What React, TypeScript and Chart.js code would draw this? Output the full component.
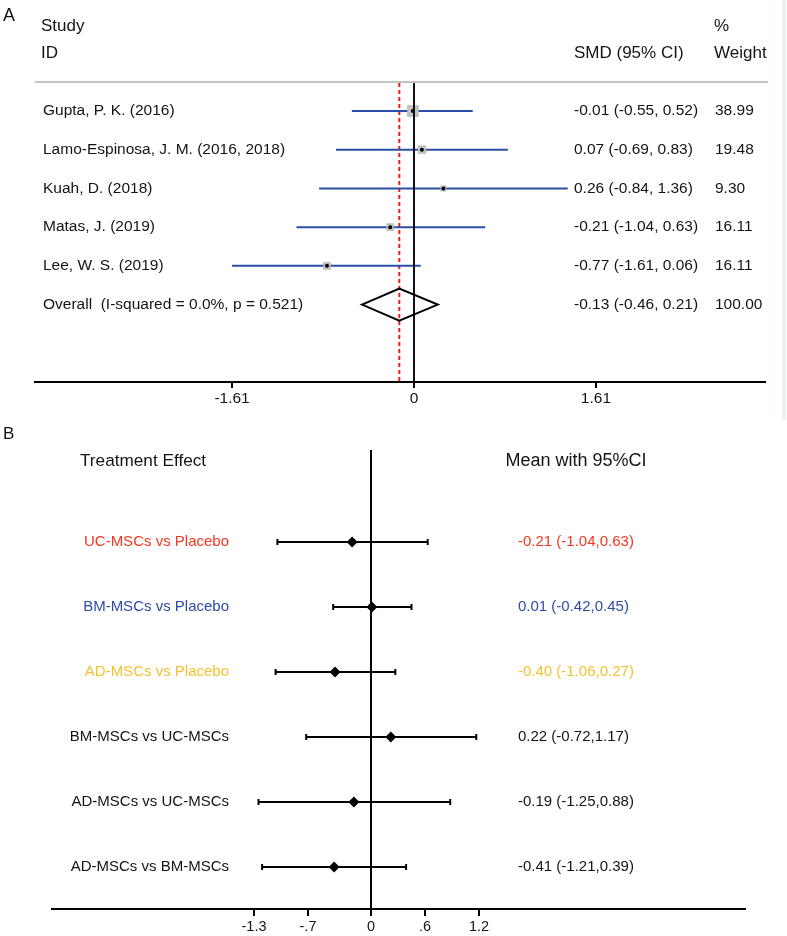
import React, { useEffect, useRef } from "react";
import { Chart, registerables } from "chart.js";

Chart.register(...registerables);

// ---------- Panel A data ----------
const studies = [
  "Gupta, P. K. (2016)",
  "Lamo-Espinosa, J. M. (2016, 2018)",
  "Kuah, D. (2018)",
  "Matas, J. (2019)",
  "Lee, W. S. (2019)",
];
const smd = [-0.01, 0.07, 0.26, -0.21, -0.77];
const smdLow = [-0.55, -0.69, -0.84, -1.04, -1.61];
const smdHigh = [0.52, 0.83, 1.36, 0.63, 0.06];
const weights = [38.99, 19.48, 9.3, 16.11, 16.11];
const overallLabel = "Overall  (I-squared = 0.0%, p = 0.521)";
const overallEst = -0.13;
const overallLow = -0.46;
const overallHigh = 0.21;
const overallWeight = 100.0;
const ticksA = [-1.61, 0, 1.61];
const tickLabelsA = ["-1.61", "0", "1.61"];

// ---------- Panel B data ----------
const comparisons = [
  "UC-MSCs vs Placebo",
  "BM-MSCs vs Placebo",
  "AD-MSCs vs Placebo",
  "BM-MSCs vs UC-MSCs",
  "AD-MSCs vs UC-MSCs",
  "AD-MSCs vs BM-MSCs",
];
const meanB = [-0.21, 0.01, -0.4, 0.22, -0.19, -0.41];
const lowB = [-1.04, -0.42, -1.06, -0.72, -1.25, -1.21];
const highB = [0.63, 0.45, 0.27, 1.17, 0.88, 0.39];
const ticksB = [-1.3, -0.7, 0, 0.6, 1.2];
const tickLabelsB = ["-1.3", "-.7", "0", ".6", "1.2"];

// ---------- styles ----------
const FONT = "'Liberation Sans', Arial, Helvetica, sans-serif";
const BLUE = "#2b4ea6";
const TEXT = "#141414";
const rowColorsB = ["#f2381f", "#2d4ba8", "#f5c22e", TEXT, TEXT, TEXT];

function txt(
  ctx: CanvasRenderingContext2D,
  s: string,
  x: number,
  y: number,
  size: number,
  color = TEXT,
  align: CanvasTextAlign = "left"
) {
  ctx.save();
  ctx.font = `${size}px ${FONT}`;
  ctx.fillStyle = color;
  ctx.textAlign = align;
  ctx.textBaseline = "middle";
  ctx.fillText(s, x, y);
  ctx.restore();
}

const f2 = (v: number) => v.toFixed(2);

function configA(): any {
  const lineSets = studies.map((_, i) => ({
    data: [
      { x: smdLow[i], y: i + 1 },
      { x: smdHigh[i], y: i + 1 },
    ],
    showLine: true,
    borderColor: BLUE,
    borderWidth: 2,
    pointRadius: 0,
    order: 3,
  }));
  const squares = {
    data: smd.map((v, i) => ({ x: v, y: i + 1 })),
    pointStyle: "rect",
    pointRadius: weights.map((w) => Math.sqrt(w) * 1.25),
    backgroundColor: "#c2c2c2",
    borderColor: "#b0b0b0",
    borderWidth: 0.5,
    order: 2,
  };
  const dots = {
    data: smd.map((v, i) => ({ x: v, y: i + 1 })),
    pointStyle: "circle",
    pointRadius: 2,
    backgroundColor: "#000",
    borderWidth: 0,
    order: 1,
  };

  const plugin = {
    id: "panelA",
    beforeDatasetsDraw(chart: any) {
      const { ctx, scales, chartArea } = chart;
      const x = scales.x;
      // header rule
      ctx.save();
      ctx.strokeStyle = "#c4c4c4";
      ctx.lineWidth = 2;
      ctx.beginPath();
      ctx.moveTo(chartArea.left, chartArea.top);
      ctx.lineTo(768, chartArea.top);
      ctx.stroke();
      // overall dashed line
      const px = x.getPixelForValue(overallEst);
      ctx.strokeStyle = "#ee1c1c";
      ctx.lineWidth = 2;
      ctx.setLineDash([4, 3]);
      ctx.beginPath();
      ctx.moveTo(px, chartArea.top + 1);
      ctx.lineTo(px, chartArea.bottom);
      ctx.stroke();
      ctx.restore();
    },
    afterDatasetsDraw(chart: any) {
      const { ctx, scales, chartArea } = chart;
      const x = scales.x;
      const y = scales.y;
      ctx.save();
      // null line
      const z = x.getPixelForValue(0);
      ctx.strokeStyle = "#111";
      ctx.lineWidth = 2;
      ctx.beginPath();
      ctx.moveTo(z, chartArea.top + 1);
      ctx.lineTo(z, chartArea.bottom);
      ctx.stroke();
      // overall diamond
      const yo = y.getPixelForValue(studies.length + 1);
      const h = 16;
      ctx.beginPath();
      ctx.moveTo(x.getPixelForValue(overallLow), yo);
      ctx.lineTo(x.getPixelForValue(overallEst), yo - h);
      ctx.lineTo(x.getPixelForValue(overallHigh), yo);
      ctx.lineTo(x.getPixelForValue(overallEst), yo + h);
      ctx.closePath();
      ctx.strokeStyle = "#000";
      ctx.lineWidth = 2;
      ctx.stroke();
      // faint right border
      ctx.strokeStyle = "#e2f0f4";
      ctx.lineWidth = 3;
      ctx.beginPath();
      ctx.moveTo(784, 0);
      ctx.lineTo(784, 420);
      ctx.stroke();
      ctx.restore();

      // texts
      txt(ctx, "A", 3, 16, 18);
      txt(ctx, "Study", 41, 26, 17);
      txt(ctx, "ID", 41, 53, 17);
      txt(ctx, "SMD (95% CI)", 574, 53, 17);
      txt(ctx, "%", 714, 26, 17);
      txt(ctx, "Weight", 714, 53, 17);
      studies.forEach((s, i) => {
        const yy = y.getPixelForValue(i + 1);
        txt(ctx, s, 43, yy, 15.5);
        txt(ctx, `${f2(smd[i])} (${f2(smdLow[i])}, ${f2(smdHigh[i])})`, 574, yy, 15.5);
        txt(ctx, f2(weights[i]), 715, yy, 15.5);
      });
      txt(ctx, overallLabel, 43, yo, 15.5);
      txt(ctx, `${f2(overallEst)} (${f2(overallLow)}, ${f2(overallHigh)})`, 574, yo, 15.5);
      txt(ctx, f2(overallWeight), 715, yo, 15.5);
    },
  };

  return {
    type: "scatter",
    data: { datasets: [...lineSets, squares, dots] },
    options: {
      animation: false,
      responsive: false,
      devicePixelRatio: 1,
      layout: { padding: { left: 35, right: 22, top: 82, bottom: 0 } },
      plugins: { legend: { display: false }, tooltip: { enabled: false } },
      scales: {
        x: {
          type: "linear",
          min: -379 / 113,
          max: 351 / 113,
          afterBuildTicks: (s: any) => {
            s.ticks = ticksA.map((v) => ({ value: v }));
          },
          afterFit: (s: any) => {
            s.height = 38;
          },
          ticks: {
            autoSkip: false,
            maxRotation: 0,
            padding: 1,
            color: TEXT,
            font: { family: FONT, size: 15.5 },
            callback: (_v: any, i: number) => tickLabelsA[i],
          },
          grid: {
            drawOnChartArea: false,
            drawTicks: true,
            tickLength: 6,
            color: "#000",
            lineWidth: 2,
          },
          border: { display: true, color: "#000", width: 2 },
        },
        y: {
          type: "linear",
          display: false,
          reverse: true,
          min: 0.25,
          max: 8.0,
        },
      },
    },
    plugins: [plugin],
  };
}

function configB(): any {
  const bars = comparisons.map((_, i) => ({
    data: [
      { x: lowB[i], y: i + 1 },
      { x: highB[i], y: i + 1 },
    ],
    showLine: true,
    borderColor: "#000",
    borderWidth: 2,
    pointStyle: "line",
    pointRotation: 90,
    pointRadius: 3,
    pointBorderWidth: 2,
    pointBorderColor: "#000",
    order: 2,
  }));
  const diamonds = {
    data: meanB.map((v, i) => ({ x: v, y: i + 1 })),
    pointStyle: "rectRot",
    pointRadius: 5.5,
    backgroundColor: "#000",
    borderColor: "#000",
    borderWidth: 0,
    order: 1,
  };

  const plugin = {
    id: "panelB",
    beforeDatasetsDraw(chart: any) {
      const { ctx, scales, chartArea } = chart;
      const z = scales.x.getPixelForValue(0);
      ctx.save();
      ctx.strokeStyle = "#000";
      ctx.lineWidth = 2;
      ctx.beginPath();
      ctx.moveTo(z, chartArea.top);
      ctx.lineTo(z, chartArea.bottom);
      ctx.stroke();
      ctx.restore();
    },
    afterDatasetsDraw(chart: any) {
      const { ctx, scales } = chart;
      const y = scales.y;
      txt(ctx, "B", 3, 14, 17);
      txt(ctx, "Treatment Effect", 80, 41, 17.2);
      txt(ctx, "Mean with 95%CI", 576, 41, 18, TEXT, "center");
      comparisons.forEach((c, i) => {
        const yy = y.getPixelForValue(i + 1);
        txt(ctx, c, 229, yy, 15, rowColorsB[i], "right");
        txt(ctx, `${f2(meanB[i])} (${f2(lowB[i])},${f2(highB[i])})`, 518, yy, 15, rowColorsB[i]);
      });
    },
  };

  return {
    type: "scatter",
    data: { datasets: [...bars, diamonds] },
    options: {
      animation: false,
      responsive: false,
      devicePixelRatio: 1,
      layout: { padding: { left: 52, right: 42, top: 30, bottom: 0 } },
      plugins: { legend: { display: false }, tooltip: { enabled: false } },
      scales: {
        x: {
          type: "linear",
          min: -319 / 90,
          max: 374 / 90,
          afterBuildTicks: (s: any) => {
            s.ticks = ticksB.map((v) => ({ value: v }));
          },
          afterFit: (s: any) => {
            s.height = 27;
          },
          ticks: {
            autoSkip: false,
            maxRotation: 0,
            padding: 2,
            color: TEXT,
            font: { family: FONT, size: 14.5 },
            callback: (_v: any, i: number) => tickLabelsB[i],
          },
          grid: {
            drawOnChartArea: false,
            drawTicks: true,
            tickLength: 7,
            color: "#000",
            lineWidth: 2,
          },
          border: { display: true, color: "#000", width: 2 },
        },
        y: {
          type: "linear",
          display: false,
          reverse: true,
          min: -0.415,
          max: 6.646,
        },
      },
    },
    plugins: [plugin],
  };
}

export default function App() {
  const refA = useRef<HTMLCanvasElement>(null);
  const refB = useRef<HTMLCanvasElement>(null);
  useEffect(() => {
    const a = new Chart(refA.current as HTMLCanvasElement, configA());
    const b = new Chart(refB.current as HTMLCanvasElement, configB());
    return () => {
      a.destroy();
      b.destroy();
    };
  }, []);
  return (
    <div
      style={{
        position: "absolute",
        left: 0,
        top: 0,
        width: 787,
        height: 936,
        background: "#fff",
      }}
    >
      <canvas
        ref={refA}
        width={787}
        height={420}
        style={{ position: "absolute", left: 0, top: 0, width: 787, height: 420 }}
      />
      <canvas
        ref={refB}
        width={787}
        height={516}
        style={{ position: "absolute", left: 0, top: 420, width: 787, height: 516 }}
      />
    </div>
  );
}
